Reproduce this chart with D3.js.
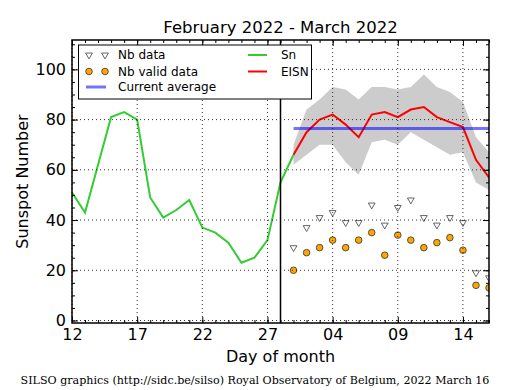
<!DOCTYPE html>
<html><head><meta charset="utf-8">
<script src="https://cdn.jsdelivr.net/npm/d3@7"></script>
<style>
body{margin:0;background:#fff;}
svg{display:block;}
text{font-family:"DejaVu Sans",sans-serif;fill:#000;}
</style>
</head><body><svg id="c" width="515" height="390"></svg>
<script>
// ---------- data ----------
const titleText = "February 2022 - March 2022";
const snDates = ["2022-02-12","2022-02-13","2022-02-14","2022-02-15","2022-02-16","2022-02-17","2022-02-18","2022-02-19","2022-02-20","2022-02-21","2022-02-22","2022-02-23","2022-02-24","2022-02-25","2022-02-26","2022-02-27","2022-02-28","2022-03-01"];
const snValues = [51, 43, 62, 81, 83, 80, 49, 41, 44, 48, 37, 35, 31, 23, 25, 32, 55, 66];
const eisnDates = ["2022-03-01","2022-03-02","2022-03-03","2022-03-04","2022-03-05","2022-03-06","2022-03-07","2022-03-08","2022-03-09","2022-03-10","2022-03-11","2022-03-12","2022-03-13","2022-03-14","2022-03-15","2022-03-16"];
const eisnValues = [66, 75, 80, 82, 78, 73, 82, 83, 81, 84, 85, 81, 79, 77, 64, 57];
const eisnUpper = [70, 84, 88, 93, 92, 88, 93, 93, 92, 93, 98, 93, 91, 87, 73, 67];
const eisnLower = [62, 66, 70, 70, 63, 58, 71, 72, 70, 75, 72, 69, 66, 67, 55, 52];
const nbData = [29, 37, 41, 43, 39, 39, 46, 38, 45, 48, 41, 38, 41, 39, 19, 17];
const nbValid = [20, 27, 29, 32, 29, 32, 35, 26, 34, 32, 29, 31, 33, 28, 14, 13];
const currentAverage = 76.5;
const averageDates = ["2022-03-01", "2022-03-16"];
const markerDate = "2022-02-28";
const xDomain = ["2022-02-12", "2022-03-16"];
const xTickDates = ["2022-02-12","2022-02-17","2022-02-22","2022-02-27","2022-03-04","2022-03-09","2022-03-14"];
const yTicks = [0, 20, 40, 60, 80, 100];
const yMinorTicks = [0,5,10,15,20,25,30,35,40,45,50,55,60,65,70,75,80,85,90,95,100,105,110];
const yDomain = [-1, 111.7];
const footer = "SILSO graphics (http://sidc.be/silso) Royal Observatory of Belgium, 2022 March 16";

// ---------- layout ----------
const L = 72, R = 489, T = 40, B = 323;
const parse = d3.utcParse("%Y-%m-%d");
const svg = d3.select("#c");
const x = d3.scaleUtc().domain(xDomain.map(parse)).range([L, R]);
const y = d3.scaleLinear().domain(yDomain).range([B, T]);

svg.append("defs").append("clipPath").attr("id","clip")
  .append("rect").attr("x",L).attr("y",T).attr("width",R-L).attr("height",B-T);

const plot = svg.append("g").attr("clip-path","url(#clip)");

// band
const bandData = eisnDates.map((d,i)=>({d:parse(d), lo:eisnLower[i], hi:eisnUpper[i]}));
plot.append("path").datum(bandData)
  .attr("d", d3.area().x(d=>x(d.d)).y0(d=>y(d.lo)).y1(d=>y(d.hi)))
  .attr("fill","#cccccc").attr("stroke","none");

// grid
const grid = svg.append("g").attr("stroke","#000").attr("stroke-width",0.8).attr("stroke-dasharray","1,3");
xTickDates.map(parse).forEach(d=>{
  grid.append("line").attr("x1",x(d)).attr("x2",x(d)).attr("y1",T).attr("y2",B);
});
yTicks.forEach(v=>{
  grid.append("line").attr("x1",L).attr("x2",R).attr("y1",y(v)).attr("y2",y(v));
});

// vertical marker line
svg.append("line").attr("x1",x(parse(markerDate))).attr("x2",x(parse(markerDate)))
  .attr("y1",T).attr("y2",B).attr("stroke","#000").attr("stroke-width",1.5);

// Sn line
plot.append("path").datum(snDates.map((d,i)=>({d:parse(d),v:snValues[i]})))
  .attr("d", d3.line().x(d=>x(d.d)).y(d=>y(d.v)))
  .attr("fill","none").attr("stroke","#33cc33").attr("stroke-width",2);

// EISN line
plot.append("path").datum(eisnDates.map((d,i)=>({d:parse(d),v:eisnValues[i]})))
  .attr("d", d3.line().x(d=>x(d.d)).y(d=>y(d.v)))
  .attr("fill","none").attr("stroke","#ff0000").attr("stroke-width",2);

// average
plot.append("line").attr("x1",x(parse(averageDates[0]))).attr("x2",R+2)
  .attr("y1",y(currentAverage)).attr("y2",y(currentAverage))
  .attr("stroke","#0000ff").attr("stroke-opacity",0.55).attr("stroke-width",3);

// markers
const tri = d3.symbol().type(d3.symbolTriangle).size(20);
plot.selectAll(".tri").data(eisnDates.map((d,i)=>({d:parse(d),v:nbData[i]}))).enter()
  .append("path").attr("d",tri)
  .attr("transform",d=>`translate(${x(d.d)},${y(d.v)}) rotate(180)`)
  .attr("fill","#ffffff").attr("stroke","#555").attr("stroke-width",0.9);
plot.selectAll(".dot").data(eisnDates.map((d,i)=>({d:parse(d),v:nbValid[i]}))).enter()
  .append("circle").attr("cx",d=>x(d.d)).attr("cy",d=>y(d.v)).attr("r",3.3)
  .attr("fill","#ffa500").attr("stroke","#333").attr("stroke-width",0.8);

// axes
const fontSize = 16;
const majorX = xTickDates.map(parse);
const minorX = d3.utcDay.range(parse(xDomain[0]), d3.utcDay.offset(parse(xDomain[1]),1));
function styleAxis(g){ g.select(".domain").remove(); g.selectAll("line").attr("stroke","#000"); }
svg.append("g").attr("transform",`translate(0,${B})`)
  .call(d3.axisBottom(x).tickValues(minorX).tickFormat("").tickSizeInner(-3).tickSizeOuter(0)).call(styleAxis);
svg.append("g").attr("transform",`translate(0,${T})`)
  .call(d3.axisTop(x).tickValues(minorX).tickFormat("").tickSizeInner(-3).tickSizeOuter(0)).call(styleAxis);
svg.append("g").attr("transform",`translate(0,${B})`)
  .call(d3.axisBottom(x).tickValues(majorX).tickFormat(d3.utcFormat("%d")).tickSizeInner(-6).tickSizeOuter(0).tickPadding(6))
  .call(styleAxis).selectAll("text").attr("font-size",fontSize).attr("font-family","DejaVu Sans");
svg.append("g").attr("transform",`translate(0,${T})`)
  .call(d3.axisTop(x).tickValues(majorX).tickFormat("").tickSizeInner(-6).tickSizeOuter(0)).call(styleAxis);
svg.append("g").attr("transform",`translate(${L},0)`)
  .call(d3.axisLeft(y).tickValues(yMinorTicks).tickFormat("").tickSizeInner(-3).tickSizeOuter(0)).call(styleAxis);
svg.append("g").attr("transform",`translate(${R},0)`)
  .call(d3.axisRight(y).tickValues(yMinorTicks).tickFormat("").tickSizeInner(-3).tickSizeOuter(0)).call(styleAxis);
svg.append("g").attr("transform",`translate(${L},0)`)
  .call(d3.axisLeft(y).tickValues(yTicks).tickFormat(d3.format("d")).tickSizeInner(-6).tickSizeOuter(0).tickPadding(6))
  .call(styleAxis).selectAll("text").attr("font-size",fontSize).attr("font-family","DejaVu Sans");
svg.append("g").attr("transform",`translate(${R},0)`)
  .call(d3.axisRight(y).tickValues(yTicks).tickFormat("").tickSizeInner(-6).tickSizeOuter(0)).call(styleAxis);

// frame
svg.append("rect").attr("x",L).attr("y",T).attr("width",R-L).attr("height",B-T)
  .attr("fill","none").attr("stroke","#000").attr("stroke-width",1.5);

// titles
svg.append("text").attr("x",(L+R)/2).attr("y",33).attr("text-anchor","middle")
  .attr("font-size",16.5).text(titleText);
svg.append("text").attr("x",(L+R)/2).attr("y",362).attr("text-anchor","middle")
  .attr("font-size",16).text("Day of month");
svg.append("text").attr("transform",`translate(28,${(T+B)/2}) rotate(-90)`).attr("text-anchor","middle")
  .attr("font-size",16).text("Sunspot Number");
svg.append("text").attr("x",255).attr("y",384).attr("text-anchor","middle")
  .attr("font-size",11.1).style("font-family","'DejaVu Serif',serif").text(footer);

// legend
const lg = svg.append("g");
lg.append("rect").attr("x",78.5).attr("y",45).attr("width",233).attr("height",54)
  .attr("fill","#fff").attr("stroke","#000").attr("stroke-width",1);
const rows = [55, 71.5, 87];
[89,105].forEach(px=>{
  lg.append("path").attr("d",tri).attr("transform",`translate(${px},${rows[0]}) rotate(180)`)
    .attr("fill","#fff").attr("stroke","#555").attr("stroke-width",0.9);
  lg.append("circle").attr("cx",px).attr("cy",rows[1]).attr("r",3.3)
    .attr("fill","#ffa500").attr("stroke","#333").attr("stroke-width",0.8);
});
lg.append("line").attr("x1",86).attr("x2",106).attr("y1",rows[2]).attr("y2",rows[2])
  .attr("stroke","#0000ff").attr("stroke-opacity",0.55).attr("stroke-width",3);
lg.append("line").attr("x1",248).attr("x2",267).attr("y1",rows[0]).attr("y2",rows[0])
  .attr("stroke","#33cc33").attr("stroke-width",2);
lg.append("line").attr("x1",248).attr("x2",267).attr("y1",rows[1]).attr("y2",rows[1])
  .attr("stroke","#ff0000").attr("stroke-width",2);
const legTexts = [["Nb data",118,rows[0]],["Nb valid data",118,rows[1]],["Current average",118,rows[2]],["Sn",281,rows[0]],["EISN",281,rows[1]]];
legTexts.forEach(([t,px,py])=>{
  lg.append("text").attr("x",px).attr("y",py).attr("dy","0.36em").attr("font-size",12).text(t);
});
</script></body></html>
